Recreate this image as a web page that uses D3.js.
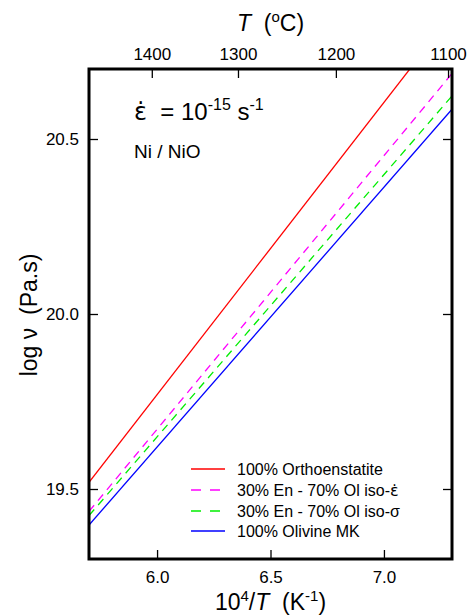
<!DOCTYPE html>
<html>
<head>
<meta charset="utf-8">
<script src="https://cdn.jsdelivr.net/npm/d3@7"></script>
<style>
  html, body { margin: 0; padding: 0; background: #fff; }
  svg text { font-family: "Liberation Sans", Arial, Helvetica, sans-serif; fill: #000; }
  svg tspan.eps { font-family: "DejaVu Sans", sans-serif; }
</style>
</head>
<body>
<svg id="chart" width="469" height="616"></svg>
<script>
// Inverse temperature range (10^4/T, K^-1) spanned by each line
const invT = [5.7, 7.3];

// log viscosity (Pa.s) at each end of the invT range
const orthoenstatite = [19.519, 20.855];
const isoStrainRate  = [19.436, 20.687];
const isoStress      = [19.424, 20.623];
const olivineMK      = [19.397, 20.585];

// strain-rate symbol: epsilon with a dot above
const EPS_DOT = "ε\u0307";
const seriesNames  = ["100% Orthoenstatite", "30% En - 70% Ol iso-", "30% En - 70% Ol iso-σ", "100% Olivine MK"];
const seriesSuffix = ["", EPS_DOT, "", ""];
const seriesColors = ["#ff0000", "#ff00ff", "#00ee00", "#0000ff"];
const seriesDashed = [false, true, true, false];

// Tick values
const xTicks = [6.0, 6.5, 7.0];
const yTicks = [19.5, 20.0, 20.5];
const celsiusTicks = [1400, 1300, 1200, 1100];

const svg = d3.select("#chart");
const frame = { left: 89, right: 452, top: 69, bottom: 559 };

const x = d3.scaleLinear().domain([5.7, 7.3]).range([frame.left, frame.right]);
const y = d3.scaleLinear().domain([19.3, 20.7]).range([frame.bottom, frame.top]);

// clip the lines to the frame
svg.append("defs").append("clipPath").attr("id", "plot-clip")
  .append("rect").attr("x", frame.left).attr("y", frame.top)
  .attr("width", frame.right - frame.left).attr("height", frame.bottom - frame.top);

const allSeries = [orthoenstatite, isoStrainRate, isoStress, olivineMK];
const line = d3.line().x(d => x(d[0])).y(d => y(d[1]));

const lines = svg.append("g").attr("clip-path", "url(#plot-clip)");
allSeries.forEach((vals, i) => {
  lines.append("path")
    .datum(invT.map((t, j) => [t, vals[j]]))
    .attr("d", line)
    .attr("fill", "none")
    .attr("stroke", seriesColors[i])
    .attr("stroke-width", 1.3)
    .attr("stroke-dasharray", seriesDashed[i] ? "8,6" : null);
});

// axes: inward ticks, frame drawn separately
function styleAxis(g) {
  g.select(".domain").remove();
  g.selectAll(".tick line").attr("stroke", "#000").attr("stroke-width", 1.3);
  g.selectAll(".tick text").attr("font-size", 17).attr("font-family", null);
}

svg.append("g").attr("transform", `translate(0,${frame.bottom})`)
  .call(d3.axisBottom(x).tickValues(xTicks).tickFormat(d3.format(".1f")).tickSize(-9).tickPadding(12))
  .call(styleAxis);

svg.append("g").attr("transform", `translate(${frame.left},0)`)
  .call(d3.axisLeft(y).tickValues(yTicks).tickFormat(d3.format(".1f")).tickSize(-9).tickPadding(10))
  .call(styleAxis);

svg.append("g").attr("transform", `translate(${frame.right},0)`)
  .call(d3.axisRight(y).tickValues(yTicks).tickFormat("").tickSize(-9))
  .call(styleAxis);

const cToInv = c => 1e4 / (c + 273.15);
svg.append("g").attr("transform", `translate(0,${frame.top})`)
  .call(d3.axisTop(x).tickValues(celsiusTicks.map(cToInv))
    .tickFormat((d, i) => celsiusTicks[i]).tickSize(-9).tickPadding(9))
  .call(styleAxis);

// frame
svg.append("rect")
  .attr("x", frame.left).attr("y", frame.top)
  .attr("width", frame.right - frame.left).attr("height", frame.bottom - frame.top)
  .attr("fill", "none").attr("stroke", "#000").attr("stroke-width", 3);

// axis titles
const midX = (frame.left + frame.right) / 2;
const topTitle = svg.append("text").attr("x", midX).attr("y", 31)
  .attr("text-anchor", "middle").attr("font-size", 23).attr("xml:space", "preserve");
topTitle.append("tspan").attr("font-style", "italic").text("T");
topTitle.append("tspan").text("  (");
topTitle.append("tspan").attr("font-size", 15).attr("dy", -9).text("o");
topTitle.append("tspan").attr("dy", 9).text("C)");

const bottomTitle = svg.append("text").attr("x", midX).attr("y", 610)
  .attr("text-anchor", "middle").attr("font-size", 23).attr("xml:space", "preserve");
bottomTitle.append("tspan").text("10");
bottomTitle.append("tspan").attr("font-size", 15).attr("dy", -9).text("4");
bottomTitle.append("tspan").attr("dy", 9).text("/");
bottomTitle.append("tspan").attr("font-style", "italic").text("T");
bottomTitle.append("tspan").text("  (K");
bottomTitle.append("tspan").attr("font-size", 15).attr("dy", -9).text("-1");
bottomTitle.append("tspan").attr("dy", 9).text(")");

svg.append("text")
  .attr("transform", `translate(37,${(frame.top + frame.bottom) / 2 + 1}) rotate(-90)`)
  .attr("text-anchor", "middle").attr("font-size", 23).attr("xml:space", "preserve")
  .text("log ν  (Pa.s)");

// annotation: strain rate and buffer
const rate = svg.append("text").attr("x", 134).attr("y", 120)
  .attr("font-size", 24).attr("xml:space", "preserve");
rate.append("tspan").attr("class", "eps").text(EPS_DOT);
rate.append("tspan").text("  = 10");
rate.append("tspan").attr("font-size", 16).attr("dy", -10).text("-15");
rate.append("tspan").attr("dy", 10).text(" s");
rate.append("tspan").attr("font-size", 16).attr("dy", -10).text("-1");

svg.append("text").attr("x", 134).attr("y", 158)
  .attr("font-size", 19).text("Ni / NiO");

// legend
const legend = svg.append("g");
const rowY = [469, 490, 511, 531];
seriesNames.forEach((name, i) => {
  legend.append("line")
    .attr("x1", 191).attr("x2", 225).attr("y1", rowY[i]).attr("y2", rowY[i])
    .attr("stroke", seriesColors[i]).attr("stroke-width", 1.3)
    .attr("stroke-dasharray", seriesDashed[i] ? "10,9" : null);
  const t = legend.append("text").attr("x", 237).attr("y", rowY[i] + 6)
    .attr("font-size", 16);
  t.append("tspan").text(name);
  if (seriesSuffix[i]) t.append("tspan").attr("class", "eps").text(seriesSuffix[i]);
});
</script>
</body>
</html>
